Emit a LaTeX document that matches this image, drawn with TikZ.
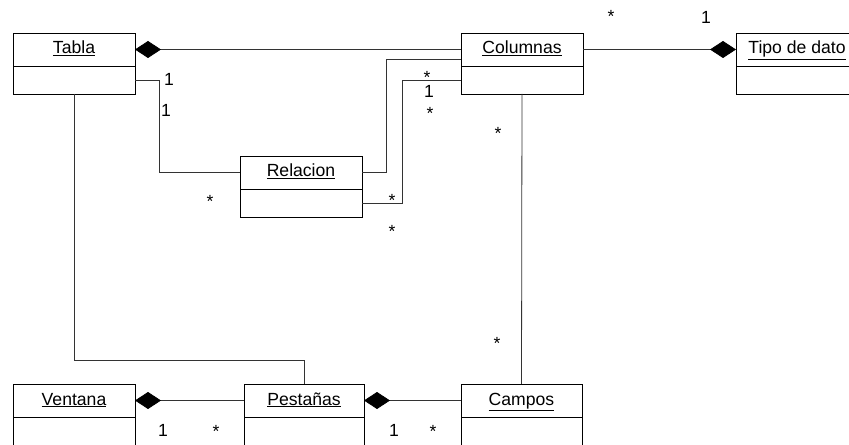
\documentclass[tikz,border=0pt]{standalone}
\usepackage{fontspec}
\setmainfont{Liberation Sans}
\usetikzlibrary{arrows.meta}
\begin{document}
\begin{tikzpicture}[x=1bp,y=-1bp,
  every node/.style={font=\fontsize{17.6bp}{20bp}\selectfont, inner sep=0pt, outer sep=0pt},
  box/.style={draw=black, line width=0.9bp, minimum width=122bp, minimum height=33bp,
    text height=12.6bp, text depth=3.6bp},
  attr/.style={draw=black, line width=0.9bp, minimum width=122bp, minimum height=28bp},
  link/.style={draw=black!80, line width=0.8bp},
  comp/.style={link, {Diamond[length=26bp,width=17bp,color=black]}-},
  mult/.style={anchor=base}]
\useasboundingbox (0,0) rectangle (849,445);
\clip (0,0) rectangle (849,445);

% classes: title compartment + attribute compartment
\node[box] (tablaT) at (74,49.5) {\underline{Tabla}};
\node[attr, anchor=north] (tablaA) at (tablaT.south) {};
\node[box] (colT) at (522,49.5) {\underline{Columnas}};
\node[attr, anchor=north] (colA) at (colT.south) {};
\node[box] (tipoT) at (797,49.5) {\underline{Tipo de dato}};
\node[attr, anchor=north] (tipoA) at (tipoT.south) {};
\node[box] (relT) at (301,172.5) {\underline{Relacion}};
\node[attr, anchor=north] (relA) at (relT.south) {};
\node[box] (venT) at (74,400.5) {\underline{Ventana}};
\node[attr, anchor=north, minimum height=34bp] (venA) at (venT.south) {};
\node[box, minimum width=120bp] (pesT) at (304,400.5) {\underline{Pestañas}};
\node[attr, anchor=north, minimum width=120bp, minimum height=34bp] (pesA) at (pesT.south) {};
\node[box, minimum width=121bp] (camT) at (521.5,400.5) {\underline{Campos}};
\node[attr, anchor=north, minimum width=121bp, minimum height=34bp] (camA) at (camT.south) {};

% compositions
\draw[comp] (tablaT.east) -- (colT.west);
\draw[comp] (tipoT.west) -- (colT.east);
\draw[comp] (venT.east) -- (pesT.west);
\draw[comp] (pesT.east) -- (camT.west);

% associations
\draw[link] (tablaA.east) -| ([xshift=24bp]tablaA.east |- relT.west) -- (relT.west);
\draw[link] (relT.east) -| ([xshift=24bp,yshift=-9.5bp]relT.east |- colT.west) -- ([yshift=-9.5bp]colT.west);
\draw[link] (relA.east) -| ([xshift=40bp]relA.east |- colA.west) -- (colA.west);
\draw[link] (colA.south) -- (camT.north);
\draw[link] (tablaA.south) |- ([yshift=24bp]pesT.north) -- (pesT.north);

% multiplicities
\node[mult] at (611,23) {*};
\node[mult] at (706,23.5) {1};
\node[mult] at (169,86) {1};
\node[mult] at (166,116.5) {1};
\node[mult] at (210,208) {*};
\node[mult] at (427,84) {*};
\node[mult] at (429,97.5) {1};
\node[mult] at (430,120) {*};
\node[mult] at (392,207) {*};
\node[mult] at (392,238) {*};
\node[mult] at (498,140) {*};
\node[mult] at (497,350) {*};
\node[mult] at (163,436.5) {1};
\node[mult] at (216,437) {*};
\node[mult] at (394,436.5) {1};
\node[mult] at (433,437) {*};
\end{tikzpicture}
\end{document}
